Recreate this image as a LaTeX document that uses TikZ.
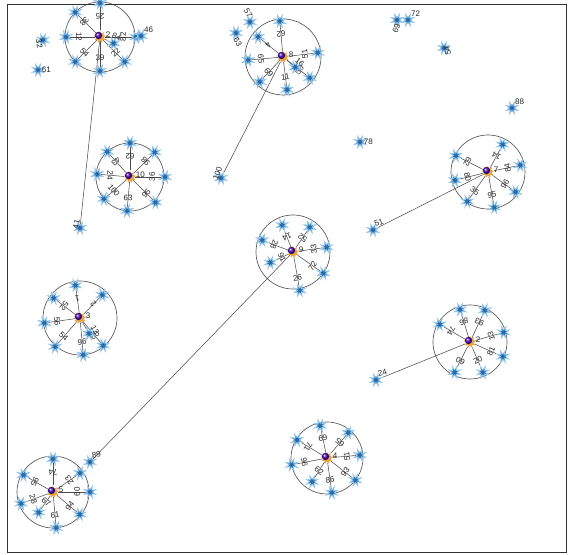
\documentclass[tikz,border=0pt]{standalone}
\usepackage{fontspec}
\setmainfont{Liberation Sans}
\usepackage{tikz}
\usetikzlibrary{calc,shapes.geometric}

\pgfdeclarelayer{bg}
\pgfsetlayers{bg,main}

\definecolor{leafblue}{RGB}{40,105,170}
\definecolor{leafglow}{RGB}{150,200,235}
\definecolor{hubgold}{RGB}{235,165,70}

% one group: hub, ring, spokes with numbered members
\newcommand\cluster[5]{%
  \node[hub] (#1) at (#2) {};
  \node[ball] at ([shift={(-1.5,1.5)}]#1) {};
  \node[num, anchor=west] at ([shift={(5,2)}]#1) {#4};
  \begin{pgfonlayer}{bg}\draw[ring] (#1) circle[radius=#3];\end{pgfonlayer}
  \foreach \ang/\rad/\lab [count=\i, evaluate=\rad as \rin using \rad-13] in {#5} {
    \node[leaf] (#1\i) at ($(#1)+(\ang:\rad)$) {};
    \ifnum\rad<20
      \node[num, rotate=\ang] at ($(#1\i)+(\ang+90:7)$) {\lab};
    \else
      \node[num, rotate=\ang+90] at ($(#1)+(\ang:\rin)$) {\lab};
    \fi
    \begin{pgfonlayer}{bg}\draw[spoke] (#1) -- (#1\i);\end{pgfonlayer}
  }}

\begin{document}
\begin{tikzpicture}[x=0.2622mm, y=0.2622mm,
                    hub/.style={star, star points=9, star point ratio=1.6,
                                fill=hubgold, inner sep=0pt, minimum size=3.2mm},
                    ball/.style={circle, shading=ball, ball color=blue!45!violet,
                                 inner sep=0pt, minimum size=1.9mm},
                    leaf/.style={star, star points=8, star point ratio=0.4,
                                 fill=leafblue, draw=leafglow,
                                 line width=0.6pt, inner sep=0pt, minimum size=1.3mm},
                    num/.style={font=\fontsize{6}{7}\selectfont, inner sep=0.4pt, text=black!85},
                    ring/.style={draw=black!65, line width=0.5pt},
                    spoke/.style={draw=black!70, line width=0.4pt}]
  \useasboundingbox (0,0) rectangle (572,555);
  \draw[black!80, line width=0.7pt] (7,3) rectangle (566,551);

  % groups
  \cluster{a}{100,518}{35}{2}{90/34/25, 135/35/38, 180/34/12, 225/35/54, 270/34/39, 315/35/22, 0/36/82, -25/15/84}
  \cluster{b}{283,498}{38}{8}{95/36/62, 141/32/4, 185/35/65, 227/34/69, 277/33/11, 322/34/56, 7/35/51, -40/16/16}
  \cluster{c}{130,378}{34}{10}{90/34/62, 45/35/98, 0/35/36, 315/36/95, 265/34/63, 220/34/100, 175/33/24, 132/34/43}
  \cluster{d}{488,383}{37}{7}{62/31/14, 12/33/84, -36/34/96, -80/36/95, -125/36/35, -166/34/80, 153/36/62}
  \cluster{e}{293,303}{37}{9}{112/29/14, 56/30/52, 8/34/33, -35/37/72, -80/39/26, -155/25/91, 159/33/28}
  \cluster{f}{80,237}{37}{3}{98/33/1, 46/32/2, 143/33/52, 188/36/56, 229/38/54, 275/37/96, 310/36/60, 300/18/13}
  \cluster{g}{470,213}{37}{2}{107/34/86, 65/35/93, 16/35/13, -24/36/81, -67/33/20, -117/34/09, 150/35/74}
  \cluster{h}{327,97}{36}{4}{102/33/69, 50/33/65, 5/33/51, -38/36/93, -82/35/86, -122/28/62, -169/36/96, 149/35/71}
  \cluster{i}{53,63}{36}{5}{90/33/74, 35/33/23, 0/37/60, -40/35/94, -85/36/61, -125/25/67, -160/34/28, 150/34/95}

  % loose members
  \node[leaf, label={[num, rotate=70]below left:69}] (n69) at (397,535) {};
  \node[leaf, label={[num]above right:72}] (n72) at (408,535) {};
  \node[leaf, label={[num, rotate=100]below:54}] (n54) at (444,507) {};
  \node[leaf, label={[num]above right:88}] (n88) at (512,447) {};
  \node[leaf, label={[num]right:78}] (n78) at (360,413) {};
  \node[leaf, label={[num, rotate=-80]below:32}] (n32) at (43,515) {};
  \node[leaf, label={[num]right:61}] (n61) at (38,485) {};
  \node[leaf, label={[num]above right:46}] (n46) at (141,519) {};
  \node[leaf, label={[num, rotate=80]above:41}] (n41) at (80,327) {};
  \node[leaf, label={[num, rotate=70]above:100}] (n100) at (221,377) {};
  \node[leaf, label={[num, rotate=20]above right:51}] (n51) at (373,325) {};
  \node[leaf, label={[num, rotate=15]above right:89}] (n89) at (90,93) {};
  \node[leaf, label={[num, rotate=15]above right:24}] (n24) at (376,175) {};
  \node[leaf, label={[num, rotate=-60]above left:57}] (n57) at (250,533) {};
  \node[leaf, label={[num, rotate=-60]below right:63}] (n63) at (236,522) {};

  % long links
  \begin{pgfonlayer}{bg}
    \draw[spoke] (a) -- (n41);
    \draw[spoke] (b) -- (n100);
    \draw[spoke] (d) -- (n51);
    \draw[spoke] (e) -- (n89);
    \draw[spoke] (g) -- (n24);
  \end{pgfonlayer}
\end{tikzpicture}
\end{document}
